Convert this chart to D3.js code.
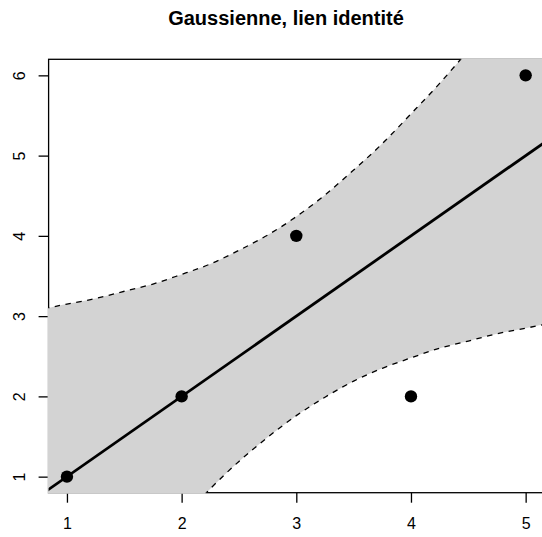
<!DOCTYPE html>
<html><head><meta charset="utf-8">
<script src="https://cdn.jsdelivr.net/npm/d3@7"></script>
<style>body{margin:0;background:#fff}svg{display:block}</style>
</head><body>
<script>
const title = "Gaussienne, lien identité";
const xTicks = [1, 2, 3, 4, 5];
const yTicks = [1, 2, 3, 4, 5, 6];
const pointsX = [1, 2, 3, 4, 5];
const pointsY = [1, 2, 4, 2, 6];
const fitX = [0.8, 5.2];
const fitY = [0.8, 5.2];
const bandX     = [0.8, 1, 1.25, 1.5, 1.75, 2, 2.25, 2.5, 2.75, 3, 3.25, 3.5, 3.75, 4, 4.25, 4.5, 4.75, 5, 5.2];
const bandUpper = [3.09, 3.15, 3.22, 3.31, 3.40, 3.52, 3.65, 3.82, 4.01, 4.24, 4.51, 4.82, 5.15, 5.52, 5.90, 6.31, 6.72, 7.15, 7.49];
const bandLower = [-1.49, -1.15, -0.72, -0.31, 0.10, 0.48, 0.85, 1.19, 1.49, 1.76, 1.99, 2.19, 2.35, 2.48, 2.60, 2.69, 2.78, 2.85, 2.91];

const W = 542, H = 537;
const x = d3.scaleLinear().domain([0.84, 5.16]).range([48.6, 544]);
const y = d3.scaleLinear().domain([0.8, 6.2]).range([492.7, 59.3]);
const L = x(0.84), R = x(5.16), T = y(6.2), B = y(0.8);

const svg = d3.select("body").append("svg").attr("width", W).attr("height", H);
const defs = svg.append("defs");
defs.append("clipPath").attr("id", "clipBand").append("rect")
  .attr("x", L - 1).attr("y", T - 1).attr("width", R - L + 2).attr("height", B - T + 2);
defs.append("clipPath").attr("id", "clipPlot").append("rect")
  .attr("x", L).attr("y", T).attr("width", R - L).attr("height", B - T);

svg.append("text").attr("x", 286).attr("y", 25).attr("text-anchor", "middle")
  .attr("font-family", "Liberation Sans, Arial, sans-serif").attr("font-weight", "bold")
  .attr("font-size", 20).attr("fill", "#000").text(title);

// box
svg.append("rect").attr("x", L).attr("y", T).attr("width", R - L).attr("height", B - T)
  .attr("fill", "none").attr("stroke", "#000").attr("stroke-width", 1.3);

// axes
const xa = svg.append("g").attr("transform", `translate(0,${B})`)
  .call(d3.axisBottom(x).tickValues(xTicks).tickSize(10).tickPadding(16).tickFormat(d3.format("d")));
const ya = svg.append("g").attr("transform", `translate(${L},0)`)
  .call(d3.axisLeft(y).tickValues(yTicks).tickSize(10).tickPadding(0).tickFormat(d3.format("d")));
[xa, ya].forEach(g => {
  g.select(".domain").remove();
  g.selectAll(".tick line").attr("stroke", "#000").attr("stroke-width", 1.3);
  g.selectAll("text").attr("font-family", "Liberation Sans, Arial, sans-serif")
    .attr("font-size", 16).attr("fill", "#000");
});
xa.selectAll(".tick text").attr("dy", null).attr("y", 0).attr("dominant-baseline", "central")
  .attr("transform", "translate(0,31)");
ya.selectAll(".tick text").attr("x", null).attr("dy", null)
  .attr("text-anchor", "middle").attr("dominant-baseline", "central")
  .attr("transform", `translate(${20 - L},0) rotate(-90)`);

// band
const band = bandX.map((v, i) => ({x: v, u: bandUpper[i], l: bandLower[i]}));
const area = d3.area().x(d => x(d.x)).y0(d => y(d.l)).y1(d => y(d.u)).curve(d3.curveNatural);
svg.append("path").attr("clip-path", "url(#clipBand)").attr("d", area(band))
  .attr("fill", "#d3d3d3").attr("stroke", "none");
const up = d3.line().x(d => x(d.x)).y(d => y(d.u)).curve(d3.curveNatural);
const lo = d3.line().x(d => x(d.x)).y(d => y(d.l)).curve(d3.curveNatural);
const gl = svg.append("g").attr("clip-path", "url(#clipPlot)");
[up, lo].forEach(f => gl.append("path").attr("d", f(band)).attr("fill", "none")
  .attr("stroke", "#000").attr("stroke-width", 1.3).attr("stroke-dasharray", "5.5,5.5"));

// fit line
const fit = fitX.map((v, i) => [v, fitY[i]]);
gl.append("path").attr("d", d3.line().x(d => x(d[0])).y(d => y(d[1]))(fit))
  .attr("fill", "none").attr("stroke", "#000").attr("stroke-width", 2.8);

// points
svg.append("g").selectAll("circle").data(pointsX.map((v, i) => [v, pointsY[i]])).join("circle")
  .attr("cx", d => x(d[0])).attr("cy", d => y(d[1])).attr("r", 6.2).attr("fill", "#000");
</script>
</body></html>
